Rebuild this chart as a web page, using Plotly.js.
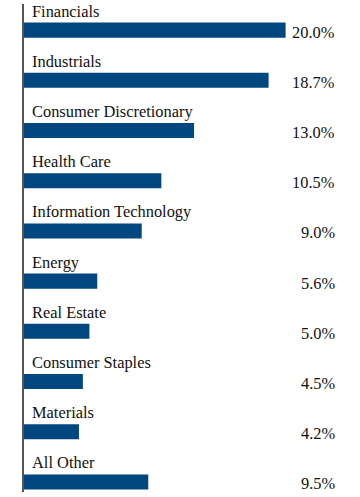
<!DOCTYPE html>
<html>
<head>
<meta charset="utf-8">
<script src="https://cdn.plot.ly/plotly-3.0.1.min.js"></script>
<style>
html,body{margin:0;padding:0;background:#fff;}
#chart{width:360px;height:497px;}
</style>
</head>
<body>
<div id="chart"></div>
<script>
const categories = ["Financials","Industrials","Consumer Discretionary","Health Care","Information Technology","Energy","Real Estate","Consumer Staples","Materials","All Other"];
const values = [20.0, 18.7, 13.0, 10.5, 9.0, 5.6, 5.0, 4.5, 4.2, 9.5];
const valueLabels = ["20.0%","18.7%","13.0%","10.5%","9.0%","5.6%","5.0%","4.5%","4.2%","9.5%"];

const FONT = "Liberation Serif";
const annotations = [];
categories.forEach((c, i) => {
  annotations.push({
    x: 0, y: c, xref: 'x', yref: 'y', text: c, showarrow: false,
    xanchor: 'left', yanchor: 'middle', xshift: 6, yshift: 19,
    font: {family: FONT, size: 16.4, color: '#111'}
  });
  annotations.push({
    x: 1, y: c, xref: 'paper', yref: 'y', text: valueLabels[i], showarrow: false,
    xanchor: 'right', yanchor: 'middle', xshift: 0, yshift: -2,
    font: {family: FONT, size: 16.4, color: '#111'}
  });
});

const trace = {
  type: 'bar', orientation: 'h',
  x: values, y: categories,
  width: 0.3,
  marker: {color: '#00467f'},
  hoverinfo: 'none'
};

const layout = {
  width: 360, height: 497,
  margin: {l: 24, r: 23, t: 4, b: 5, pad: 0},
  paper_bgcolor: '#fff', plot_bgcolor: '#fff',
  font: {family: FONT},
  showlegend: false,
  xaxis: {range: [0, 313/13.08], showgrid: false, zeroline: false, showline: false, showticklabels: false, ticks: ''},
  yaxis: {type: 'category', categoryorder: 'array', categoryarray: categories,
          range: [9.2, -0.52], showgrid: false, zeroline: false,
          showline: true, linecolor: '#555', linewidth: 2, showticklabels: false, ticks: ''},
  annotations: annotations
};

Plotly.newPlot('chart', [trace], layout, {staticPlot: true, displayModeBar: false});
</script>
</body>
</html>
